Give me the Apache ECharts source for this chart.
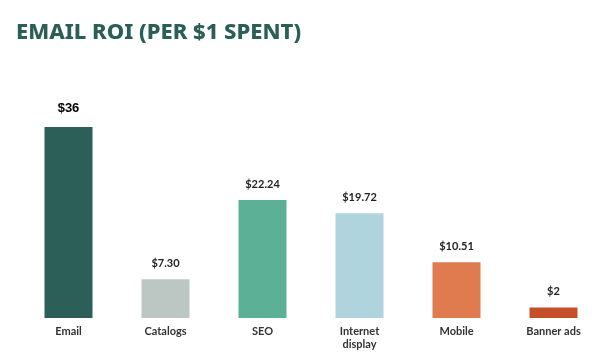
<!DOCTYPE html>
<html><head><meta charset="utf-8">
<script src="https://cdn.jsdelivr.net/npm/echarts@6/dist/echarts.min.js"></script>
<style>html,body{margin:0;padding:0;background:#fff}#c{width:602px;height:363px}</style>
</head><body><div id="c"></div>
<script>
const categories = ['Email', 'Catalogs', 'SEO', 'Internet\ndisplay', 'Mobile', 'Banner ads'];
const values = [36, 7.30, 22.24, 19.72, 10.51, 2];
const valueLabels = ['$36', '$7.30', '$22.24', '$19.72', '$10.51', '$2'];
const colors = ['#2b5f57', '#bcc7c4', '#5bb096', '#b0d4dd', '#e07b50', '#c44f28'];

const chart = echarts.init(document.getElementById('c'), null, {renderer: 'canvas'});
chart.setOption({
  animation: false,
  title: {
    text: 'EMAIL ROI (PER $1 SPENT)',
    left: 11, top: 17,
    textStyle: {fontFamily: 'Noto Sans', fontWeight: 800, fontSize: 22, color: '#2a5e57'}
  },
  grid: {left: 20, right: -4, top: 127, bottom: 45, containLabel: false},
  xAxis: {
    type: 'category', data: categories,
    axisLine: {show: false}, axisTick: {show: false},
    axisLabel: {color: '#333', fontFamily: 'Lato', fontWeight: 'bold', fontSize: 11, margin: 7, lineHeight: 13}
  },
  yAxis: {type: 'value', min: 0, max: 36, show: false, splitLine: {show: false}},
  series: [{
    type: 'bar', barWidth: 48,
    data: values.map((v, i) => ({
      value: v,
      itemStyle: {color: colors[i]},
      label: {
        show: true, position: 'top', distance: i === 0 ? 12 : 10,
        formatter: valueLabels[i],
        color: i === 0 ? '#000' : '#222',
        fontFamily: i === 0 ? 'Liberation Sans' : 'Lato',
        fontWeight: 'bold',
        fontSize: i === 0 ? 13 : 11
      }
    }))
  }]
});
</script></body></html>
